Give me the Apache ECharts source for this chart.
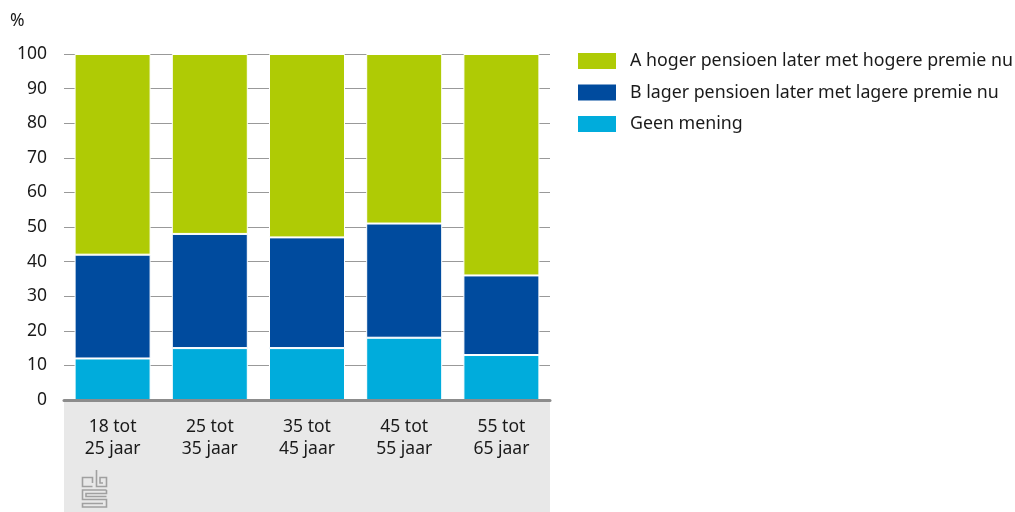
<!DOCTYPE html>
<html><head><meta charset="utf-8">
<style>html,body{margin:0;padding:0;background:#fff}#c{width:1015px;height:512px}</style>
<script src="https://cdn.jsdelivr.net/npm/echarts@6/dist/echarts.min.js"></script>
</head><body><div id="c"></div>
<script>
const categories = ['18 tot\n25 jaar','25 tot\n35 jaar','35 tot\n45 jaar','45 tot\n55 jaar','55 tot\n65 jaar'];
const geenMening = [12,15,15,18,13];
const lager = [30,33,32,33,23];
const hoger = [58,52,53,49,64];
const nameA = 'A hoger pensioen later met hogere premie nu';
const nameB = 'B lager pensioen later met lagere premie nu';
const nameC = 'Geen mening';
const font = '"Noto Sans"';
const chart = echarts.init(document.getElementById('c'), null, {renderer:'canvas'});
const mk = (name,data,color)=>({name,type:'bar',stack:'t',data,barWidth:76,
  itemStyle:{color,borderColor:'#fff',borderWidth:1},z:3});
const logoStyle = {fill:null,stroke:'#a0a0a0',lineWidth:1.6};
const logoLine = pts => ({type:'polyline',z:1,silent:true,shape:{points:pts},style:logoStyle});
chart.setOption({
  animation:false,
  backgroundColor:'#fff',
  textStyle:{fontFamily:font},
  grid:{left:64,top:54,width:486,height:346,containLabel:false},
  legend:{left:578,top:52,padding:0,orient:'vertical',itemWidth:38,itemHeight:16,itemGap:13.5,icon:'rect',
    selectedMode:false,data:[nameA,nameB,nameC],itemStyle:{borderWidth:0},
    textStyle:{fontFamily:font,fontSize:17.8,lineHeight:16,color:'#1a1a1a',padding:[1,0,0,9]}},
  xAxis:{type:'category',data:categories,
    axisTick:{show:false},
    axisLine:{show:true,onZero:false,lineStyle:{color:'#8c8c8c',width:3}},
    axisLabel:{color:'#1a1a1a',fontFamily:font,fontSize:17.5,lineHeight:22,margin:16,align:'center'},z:5},
  yAxis:{type:'value',min:0,max:100,interval:10,name:'%',nameLocation:'end',nameGap:24,
    nameTextStyle:{color:'#1a1a1a',fontFamily:font,fontSize:17.5,align:'left',padding:[0,0,0,-54]},
    axisLine:{show:false},axisTick:{show:false},
    axisLabel:{color:'#1a1a1a',fontFamily:font,fontSize:17.5,margin:17,padding:[3,0,0,0]},
    splitLine:{show:true,lineStyle:{color:'#999999',width:1}}},
  graphic:[
    {type:'rect',z:-10,silent:true,shape:{x:64,y:400,width:486,height:112},style:{fill:'#e8e8e8'}},
    logoLine([[92.5,486.5],[82.5,486.5],[82.5,477.5],[92.5,477.5],[92.5,483]]),
    logoLine([[96.5,470],[96.5,486.5],[106.5,486.5],[106.5,477.5],[100,477.5],[100,483],[103,483]]),
    logoLine([[106.5,490],[82.5,490],[82.5,499.5],[106.5,499.5],[106.5,507],[82.5,507],[82.5,503.5],[103,503.5]]),
    logoLine([[106.5,490],[106.5,493.5],[86,493.5],[86,496.5],[106.5,496.5]])
  ],
  series:[mk(nameC,geenMening,'#00acdc'),mk(nameB,lager,'#004b9e'),mk(nameA,hoger,'#afcb05')]
});
</script></body></html>
